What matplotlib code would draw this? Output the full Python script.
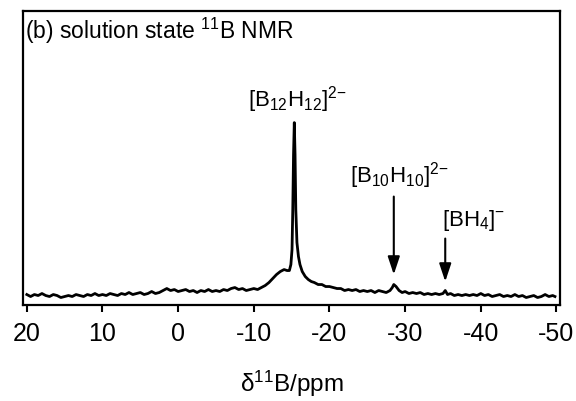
import matplotlib
matplotlib.use("Agg")
import matplotlib.pyplot as plt

plt.rcParams["font.family"] = ["Liberation Sans", "DejaVu Sans"]
plt.rcParams["mathtext.fontset"] = "custom"
plt.rcParams["mathtext.rm"] = "Liberation Sans"
plt.rcParams["mathtext.it"] = "Liberation Sans"

# chemical shift (ppm) and intensity
ppm = [
    20.0, 19.5, 19.0, 18.5, 18.0, 17.5, 17.0, 16.5, 16.0, 15.5,
    15.0, 14.5, 14.0, 13.5, 13.0, 12.5, 12.0, 11.5, 11.0, 10.5,
    10.0, 9.5, 9.0, 8.5, 8.0, 7.5, 7.0, 6.5, 6.0, 5.5,
    5.0, 4.5, 4.0, 3.5, 3.0, 2.5, 2.0, 1.5, 1.0, 0.5,
    0.0, -0.5, -1.0, -1.5, -2.0, -2.5, -3.0, -3.5, -4.0, -4.5,
    -5.0, -5.5, -6.0, -6.5, -7.0, -7.5, -8.0, -8.5, -9.0, -9.5,
    -10.0, -10.5, -11.0, -11.5, -12.0, -12.5, -13.0, -13.5, -14.0, -14.4,
    -14.7, -14.9, -15.05, -15.15, -15.25, -15.35, -15.45, -15.55, -15.7, -15.9,
    -16.1, -16.4, -16.8, -17.2, -17.6, -18.0, -18.5, -19.0, -19.5, -20.0,
    -20.5, -21.0, -21.5, -22.0, -22.5, -23.0, -23.5, -24.0, -24.5, -25.0,
    -25.5, -26.0, -26.5, -27.0, -27.5, -28.0, -28.3, -28.5, -28.8, -29.2,
    -29.6, -30.0, -30.5, -31.0, -31.5, -32.0, -32.5, -33.0, -33.5, -34.0,
    -34.5, -35.0, -35.3, -35.6, -36.0, -36.5, -37.0, -37.5, -38.0, -38.5,
    -39.0, -39.5, -40.0, -40.5, -41.0, -41.5, -42.0, -42.5, -43.0, -43.5,
    -44.0, -44.5, -45.0, -45.5, -46.0, -46.5, -47.0, -47.5, -48.0, -48.5,
    -49.0, -49.5, -49.8,
]
intensity = [
    10, 8, 10, 9, 11, 9, 8, 10, 9, 7,
    8, 9, 8, 10, 9, 8, 10, 9, 11, 9,
    10, 9, 11, 10, 9, 11, 10, 12, 10, 11,
    12, 10, 11, 13, 11, 12, 14, 16, 14, 15,
    13, 14, 15, 13, 14, 12, 14, 13, 15, 13,
    14, 13, 15, 14, 16, 17, 15, 16, 14, 15,
    16, 15, 17, 19, 22, 26, 30, 33, 35, 34,
    34, 40, 55, 95, 150, 182, 150, 95, 62, 48,
    40, 33, 28, 25, 23, 22, 20, 20, 18, 18,
    17, 16, 16, 14, 15, 14, 15, 13, 14, 13,
    14, 12, 14, 13, 12, 14, 17, 20, 18, 14,
    12, 13, 11, 12, 11, 12, 10, 11, 10, 11,
    10, 11, 14, 10, 11, 9, 10, 9, 10, 9,
    10, 9, 11, 9, 10, 8, 9, 10, 8, 9,
    8, 10, 8, 9, 7, 8, 9, 7, 8, 10,
    8, 9, 8,
]

xticks = [20, 10, 0, -10, -20, -30, -40, -50]

fig = plt.figure(figsize=(5.76, 4.02), dpi=100)
ax = fig.add_axes([0.040, 0.240, 0.932, 0.731])

ax.plot(ppm, intensity, color="black", lw=2.0)

ax.set_xlim(20.5, -50.45)
ax.set_ylim(0, 294)
ax.set_xticks(xticks)
ax.set_xticklabels([str(t) for t in xticks])
ax.set_yticks([])
ax.tick_params(axis="x", direction="out", length=5, width=1.5, labelsize=18, pad=7)
for sp in ax.spines.values():
    sp.set_linewidth(1.6)

ax.set_xlabel("δ$^{11}$B/ppm", fontsize=17.5, labelpad=16)

ax.text(0.004, 0.935, "(b) solution state $^{11}$B NMR", transform=ax.transAxes,
        fontsize=16.5, ha="left", va="center")

ax.text(-15.8, 206, r"[B$_{12}$H$_{12}$]$^{2{-}}$", fontsize=16, ha="center", va="center")
ax.text(-29.2, 130, r"[B$_{10}$H$_{10}$]$^{2{-}}$", fontsize=16, ha="center", va="center")
ax.text(-39.0, 85, r"[BH$_{4}$]$^{{-}}$", fontsize=16, ha="center", va="center")

arrow = dict(arrowstyle="-|>,head_length=0.6,head_width=0.2", color="black",
             lw=1.5, mutation_scale=18, shrinkA=0, shrinkB=0)
ax.annotate("", xy=(-28.5, 30), xytext=(-28.5, 108), arrowprops=arrow)
ax.annotate("", xy=(-35.3, 23), xytext=(-35.3, 66), arrowprops=arrow)

fig.savefig("out.png", dpi=100)
